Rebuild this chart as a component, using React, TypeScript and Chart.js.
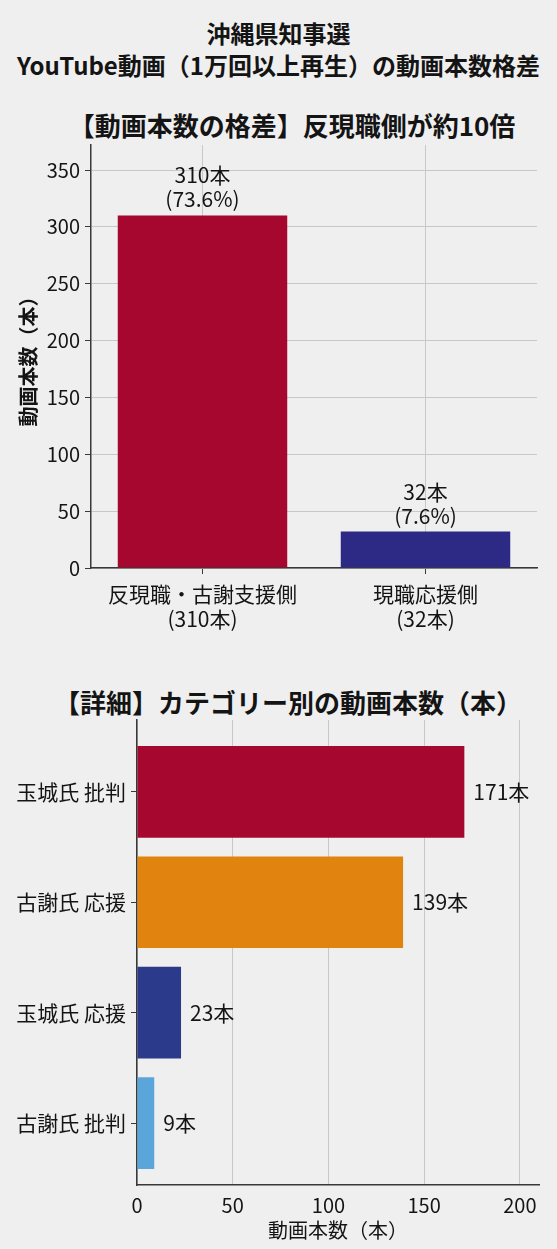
import React, { useEffect, useRef } from 'react';
import { Chart, registerables } from 'chart.js';

Chart.register(...registerables);

const FONT = "'Noto Sans CJK JP', 'Noto Sans', sans-serif";
const INK = '#141414';
const GRID = '#c8c8c8';
const AXIS = '#383838';
const BG = '#efefef';

const mainTitle = ['沖縄県知事選', 'YouTube動画（1万回以上再生）の動画本数格差'];
const sideTitle = '【動画本数の格差】反現職側が約10倍';
const detailTitle = '【詳細】カテゴリー別の動画本数（本）';
const axisTitle = '動画本数（本）';

// top chart: two camps
const sideLabels = ['反現職・古謝支援側', '現職応援側'];
const sideCounts = [310, 32];
const sideShares = [73.6, 7.6];
const sideColors = ['#a6072e', '#2d2a86'];
const sideTicks = [0, 50, 100, 150, 200, 250, 300, 350];

// bottom chart: by category
const detailLabels = ['玉城氏 批判', '古謝氏 応援', '玉城氏 応援', '古謝氏 批判'];
const detailCounts = [171, 139, 23, 9];
const detailColors = ['#a6072e', '#e0830f', '#2b3a8b', '#5aa6da'];
const detailTicks = [0, 50, 100, 150, 200];

const sideValueLabels = {
  id: 'sideValueLabels',
  afterDatasetsDraw(chart: any) {
    const { ctx } = chart;
    const meta = chart.getDatasetMeta(0);
    ctx.save();
    ctx.fillStyle = INK;
    ctx.font = `21px ${FONT}`;
    ctx.textAlign = 'center';
    ctx.textBaseline = 'middle';
    meta.data.forEach((bar: any, i: number) => {
      ctx.fillText(`${sideCounts[i]}本`, bar.x, bar.y - 40);
      ctx.fillText(`(${sideShares[i].toFixed(1)}%)`, bar.x, bar.y - 16);
    });
    ctx.restore();
  },
};

const detailValueLabels = {
  id: 'detailValueLabels',
  afterDatasetsDraw(chart: any) {
    const { ctx } = chart;
    const meta = chart.getDatasetMeta(0);
    ctx.save();
    ctx.fillStyle = INK;
    ctx.font = `21px ${FONT}`;
    ctx.textAlign = 'left';
    ctx.textBaseline = 'middle';
    meta.data.forEach((bar: any, i: number) => {
      ctx.fillText(`${detailCounts[i]}本`, bar.x + 9, bar.y);
    });
    ctx.restore();
  },
};

const noPad = (s: any) => {
  s.paddingTop = 0;
  s.paddingBottom = 0;
  s.paddingLeft = 0;
  s.paddingRight = 0;
};

const App: React.FC = () => {
  const sideRef = useRef<HTMLCanvasElement>(null);
  const detailRef = useRef<HTMLCanvasElement>(null);

  useEffect(() => {
    if (!sideRef.current || !detailRef.current) return;

    const side = new Chart(sideRef.current, {
      type: 'bar',
      data: {
        labels: sideLabels.map((l, i) => [l, `(${sideCounts[i]}本)`]),
        datasets: [
          {
            data: sideCounts,
            backgroundColor: sideColors,
            barPercentage: 0.76,
            categoryPercentage: 1,
          },
        ],
      },
      options: {
        responsive: false,
        animation: false,
        layout: { padding: { top: 5, right: 20, left: 0, bottom: 0 } },
        plugins: { legend: { display: false }, tooltip: { enabled: false } },
        scales: {
          x: {
            grid: { offset: false, color: GRID, tickColor: AXIS, tickLength: 6 },
            border: { color: AXIS, width: 1.5 },
            ticks: {
              color: INK,
              font: { size: 21, family: FONT },
              padding: 7,
              maxRotation: 0,
              minRotation: 0,
              autoSkip: false,
            },
            afterFit: (s: any) => {
              noPad(s);
              s.height = 72;
            },
          },
          y: {
            min: 0,
            max: 372,
            afterBuildTicks: (s: any) => {
              s.ticks = sideTicks.map((v) => ({ value: v }));
            },
            grid: { color: GRID, tickColor: AXIS, tickLength: 6 },
            border: { color: AXIS, width: 1.5 },
            ticks: { color: INK, font: { size: 20, family: FONT }, padding: 5 },
            title: {
              display: true,
              text: axisTitle,
              color: INK,
              font: { size: 20, family: FONT, weight: 'bold' },
              padding: { top: 16, bottom: 0 },
            },
            afterFit: (s: any) => {
              noPad(s);
              s.width = 91;
            },
          },
        },
      },
      plugins: [sideValueLabels],
    } as any);

    const detail = new Chart(detailRef.current, {
      type: 'bar',
      data: {
        datasets: [
          {
            data: detailCounts.map((v, i) => ({ x: v, y: i })),
            backgroundColor: detailColors,
            barPercentage: 0.83,
            categoryPercentage: 1,
          },
        ],
      },
      options: {
        indexAxis: 'y',
        responsive: false,
        animation: false,
        layout: { padding: { top: 5, right: 18, left: 0, bottom: 0 } },
        plugins: { legend: { display: false }, tooltip: { enabled: false } },
        scales: {
          x: {
            type: 'linear',
            min: 0,
            max: 210,
            afterBuildTicks: (s: any) => {
              s.ticks = detailTicks.map((v) => ({ value: v }));
            },
            grid: { color: GRID, drawTicks: false },
            border: { color: AXIS, width: 1.5 },
            ticks: { color: INK, font: { size: 20, family: FONT }, padding: 8 },
            title: {
              display: true,
              text: axisTitle,
              color: INK,
              font: { size: 20, family: FONT },
              padding: { top: 0, bottom: 7 },
            },
            afterFit: (s: any) => {
              noPad(s);
              s.height = 64;
            },
          },
          y: {
            type: 'linear',
            reverse: true,
            offset: false,
            min: -0.65,
            max: 3.56,
            afterBuildTicks: (s: any) => {
              s.ticks = detailLabels.map((_, i) => ({ value: i }));
            },
            grid: {
              offset: false,
              drawOnChartArea: false,
              drawTicks: true,
              tickLength: 6,
              tickColor: AXIS,
            },
            border: { color: AXIS, width: 1.5 },
            ticks: {
              color: INK,
              font: { size: 21, family: FONT },
              padding: 5,
              callback: (v: any) => detailLabels[v] ?? '',
            },
            afterFit: (s: any) => {
              noPad(s);
              s.width = 137;
            },
          },
        },
      },
      plugins: [detailValueLabels],
    } as any);

    return () => {
      side.destroy();
      detail.destroy();
    };
  }, []);

  return (
    <div
      style={{
        position: 'absolute',
        left: 0,
        top: 0,
        width: 557,
        height: 1249,
        background: BG,
        overflow: 'hidden',
        fontFamily: FONT,
        color: INK,
      }}
    >
      <div
        style={{
          position: 'absolute',
          top: 17,
          left: 0,
          width: 557,
          textAlign: 'center',
          fontSize: 24,
          fontWeight: 700,
          lineHeight: '32px',
          whiteSpace: 'nowrap',
        }}
      >
        {mainTitle.map((t) => (
          <div key={t}>{t}</div>
        ))}
      </div>
      <div
        style={{
          position: 'absolute',
          top: 109,
          left: 0,
          width: 584,
          textAlign: 'center',
          fontSize: 26,
          fontWeight: 700,
          lineHeight: '32px',
          whiteSpace: 'nowrap',
        }}
      >
        {sideTitle}
      </div>
      <canvas ref={sideRef} width={557} height={500} style={{ position: 'absolute', left: 0, top: 140 }} />
      <div
        style={{
          position: 'absolute',
          top: 686,
          left: 0,
          width: 576,
          textAlign: 'center',
          fontSize: 26,
          fontWeight: 700,
          lineHeight: '32px',
          whiteSpace: 'nowrap',
        }}
      >
        {detailTitle}
      </div>
      <canvas ref={detailRef} width={557} height={534} style={{ position: 'absolute', left: 0, top: 715 }} />
    </div>
  );
};

export default App;
